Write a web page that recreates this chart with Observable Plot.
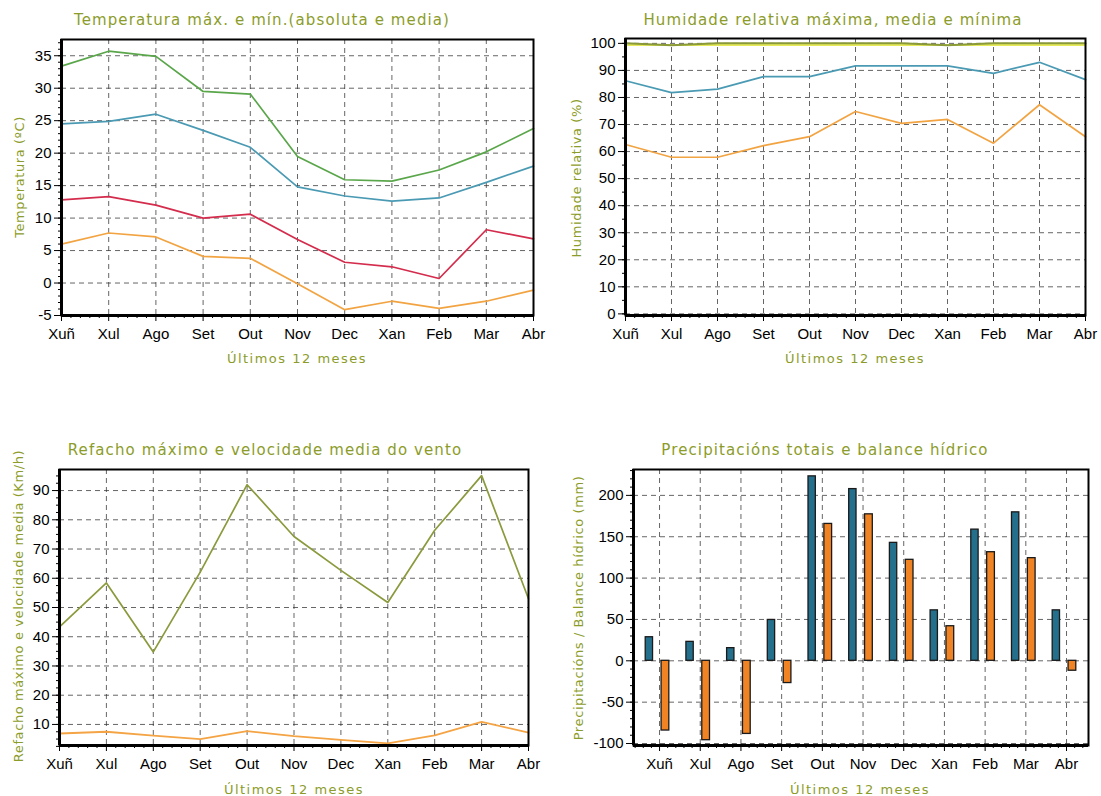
<!DOCTYPE html>
<html><head><meta charset="utf-8">
<script src="https://cdn.jsdelivr.net/npm/d3@7"></script>
<script src="https://cdn.jsdelivr.net/npm/@observablehq/plot@0.6"></script>
<style>
body{margin:0;background:#fff;}
#wrap{position:relative;width:1101px;height:796px;overflow:hidden;background:#fff;}
.panel{position:absolute;}
.title{position:absolute;font-family:"DejaVu Sans",sans-serif;font-size:15px;line-height:15px;color:#8c9c2a;letter-spacing:1.1px;white-space:nowrap;transform:translate(-50%,-50%);}
.xlab{position:absolute;font-family:"DejaVu Sans",sans-serif;font-size:13px;line-height:13px;color:#8c9c2a;letter-spacing:1.5px;white-space:nowrap;transform:translate(-50%,-50%);}
.ylab{position:absolute;font-family:"DejaVu Sans",sans-serif;font-size:13px;line-height:13px;color:#8c9c2a;letter-spacing:0.6px;white-space:nowrap;transform:translate(-50%,-50%) rotate(-90deg);}
</style>
</head><body>
<div id="wrap"></div>
<script>
// ---- data ----
const months = ["Xuñ","Xul","Ago","Set","Out","Nov","Dec","Xan","Feb","Mar","Abr"];
const tempMaxAbs = [33.4,35.7,34.9,29.5,29.1,19.5,15.9,15.7,17.4,20.2,23.8];
const tempMaxMed = [24.5,24.9,26.0,23.5,20.9,14.8,13.4,12.6,13.1,15.5,18.0];
const tempMinMed = [12.8,13.3,12.0,10.0,10.6,6.7,3.2,2.5,0.7,8.2,6.8];
const tempMinAbs = [6.0,7.7,7.1,4.1,3.8,-0.1,-4.1,-2.8,-3.9,-2.8,-1.1];

const humMax  = [100,99.3,100,100,100,100,100,99.3,100,100,100];
const humTop  = [99.4,99.4,99.4,99.4,99.4,99.4,99.4,99.4,99.4,99.4,99.4];
const humMed  = [86.2,81.8,83.1,87.7,87.7,91.7,91.7,91.7,88.9,93.0,86.6];
const humMin  = [62.6,57.9,57.9,62.2,65.5,74.8,70.4,71.9,63.1,77.3,65.5];

const windGust = [43.4,58.4,34.8,62.1,92.0,74.3,62.7,51.7,76.4,95.1,53.0];
const windMed  = [6.9,7.5,6.2,5.0,7.7,6.0,4.7,3.5,6.3,10.9,7.2];

const precip  = [28.5,22.9,15.3,49.4,223,207.6,142.6,61,158.6,179.5,61];
const balance = [-84.3,-96,-88.4,-26.9,165.5,177.1,122.1,41.8,131.3,124.1,-12];

// ---- styles ----
const gridStyle = {stroke:"#333", strokeDasharray:"5,4", strokeOpacity:0.75, strokeWidth:1};
const plotStyle = {fontFamily:"'Liberation Sans', Arial, sans-serif", fontSize:"15px", color:"#000", background:"transparent", overflow:"visible"};

const wrap = document.getElementById("wrap");
function place(el, left, top){ el.classList.add("panel"); el.style.left=left+"px"; el.style.top=top+"px"; wrap.appendChild(el); }
function label(cls, text, cx, cy){ const d=document.createElement("div"); d.className=cls; d.textContent=text; d.style.left=cx+"px"; d.style.top=cy+"px"; wrap.appendChild(d); }

function axesMarks({yMajor, yMinor, xMinor}){
  return [
    Plot.gridX(d3.range(months.length), gridStyle),
    Plot.gridY(yMajor, gridStyle),
    Plot.axisY(yMajor, {tickSize:7, tickPadding:3, label:null, fontSize:15, tickFormat:d=>String(d)}),
    Plot.axisY(yMinor, {tickSize:3, tickFormat:()=>"", label:null}),
    Plot.axisX(d3.range(months.length), {tickSize:6, tickPadding:7, tickFormat:i=>months[i], label:null, fontSize:15}),
    Plot.axisX(xMinor, {tickSize:3, tickFormat:()=>"", label:null}),
  ];
}
function frameMarks(xDomain, yDomain){
  return [
    Plot.frame({stroke:"#000", strokeWidth:2}),
    Plot.ruleX([xDomain[0]], {stroke:"#000", strokeWidth:3}),
    Plot.ruleY([yDomain[0]], {stroke:"#000", strokeWidth:3}),
  ];
}
const idx = months.map((m,i)=>i);
const minorX = d3.range(0, 10.001, 0.2).filter(v=>Math.abs(v-Math.round(v))>1e-6);

// ---- panel 1: temperature ----
{
  const xD=[0,10], yD=[-5,37.5];
  const rows = idx.map(i=>({i, a:tempMaxAbs[i], b:tempMaxMed[i], c:tempMinMed[i], d:tempMinAbs[i]}));
  const p = Plot.plot({
    width:550, height:380, marginLeft:61, marginRight:17, marginTop:39, marginBottom:65,
    style:plotStyle,
    x:{type:"linear", domain:xD}, y:{domain:yD},
    marks:[
      ...axesMarks({yMajor:d3.range(-5,36,5), yMinor:d3.range(-5,38,1), xMinor:minorX}),
      Plot.line(rows,{x:"i",y:"d",stroke:"#f2a443",strokeWidth:1.7}),
      Plot.line(rows,{x:"i",y:"c",stroke:"#d42c4c",strokeWidth:1.7}),
      Plot.line(rows,{x:"i",y:"b",stroke:"#4a9ab4",strokeWidth:1.7}),
      Plot.line(rows,{x:"i",y:"a",stroke:"#5aa64a",strokeWidth:1.7}),
      ...frameMarks(xD,yD)
    ]
  });
  place(p,0,0);
  label("title","Temperatura máx. e mín.(absoluta e media)",262,20);
  label("xlab","Últimos 12 meses",297,358);
  label("ylab","Temperatura (ºC)",19,177);
}

// ---- panel 2: humidity ----
{
  const xD=[0,10], yD=[-0.6,101.8];
  const rows = idx.map(i=>({i, mx:humMax[i], tp:humTop[i], md:humMed[i], mn:humMin[i]}));
  const p = Plot.plot({
    width:551, height:380, marginLeft:75, marginRight:16, marginTop:38, marginBottom:65,
    style:plotStyle,
    x:{type:"linear", domain:xD}, y:{domain:yD},
    marks:[
      ...axesMarks({yMajor:d3.range(0,101,10), yMinor:d3.range(0,101,5), xMinor:minorX}),
      Plot.line(rows,{x:"i",y:"mn",stroke:"#f2a443",strokeWidth:1.7}),
      Plot.line(rows,{x:"i",y:"md",stroke:"#4a9ab4",strokeWidth:1.7}),
      Plot.line(rows,{x:"i",y:"tp",stroke:"#e6ea5a",strokeWidth:2}),
      Plot.line(rows,{x:"i",y:"mx",stroke:"#8a9a3a",strokeWidth:2}),
      ...frameMarks(xD,yD)
    ]
  });
  place(p,550,0);
  label("title","Humidade relativa máxima, media e mínima",833,20);
  label("xlab","Últimos 12 meses",855,358);
  label("ylab","Humidade relativa (%)",576,178);
}

// ---- panel 3: wind ----
{
  const xD=[0,10], yD=[2.8,97.2];
  const rows = idx.map(i=>({i, g:windGust[i], m:windMed[i]}));
  const p = Plot.plot({
    width:550, height:396, marginLeft:59, marginRight:22, marginTop:69, marginBottom:51,
    style:plotStyle,
    x:{type:"linear", domain:xD}, y:{domain:yD},
    marks:[
      ...axesMarks({yMajor:d3.range(10,91,10), yMinor:d3.range(2.5,97,2.5), xMinor:minorX}),
      Plot.line(rows,{x:"i",y:"m",stroke:"#f4a444",strokeWidth:1.8}),
      Plot.line(rows,{x:"i",y:"g",stroke:"#8a9a3c",strokeWidth:1.7}),
      ...frameMarks(xD,yD)
    ]
  });
  place(p,0,400);
  label("title","Refacho máximo e velocidade media do vento",265,450);
  label("xlab","Últimos 12 meses",294,789);
  label("ylab","Refacho máximo e velocidade media (Km/h)",18,606);
}

// ---- panel 4: precipitation ----
{
  const xD=[-0.64,10.54], yD=[-102.4,231.3];
  const rows = idx.map(i=>({i, p:precip[i], b:balance[i]}));
  const minorX4 = d3.range(-0.6, 10.54, 0.2).filter(v=>Math.abs(v-Math.round(v))>1e-6);
  const p = Plot.plot({
    width:551, height:396, marginLeft:83, marginRight:13, marginTop:69, marginBottom:51,
    style:plotStyle,
    x:{type:"linear", domain:xD}, y:{domain:yD},
    marks:[
      ...axesMarks({yMajor:d3.range(-100,201,50), yMinor:d3.range(-100,231,10), xMinor:minorX4}),
      Plot.rect(rows,{x1:d=>d.i-0.34, x2:d=>d.i-0.16, y1:0, y2:"p", fill:"#24708c", stroke:"#1a1a1a", strokeWidth:1.3}),
      Plot.rect(rows,{x1:d=>d.i+0.05, x2:d=>d.i+0.24, y1:0, y2:"b", fill:"#f08424", stroke:"#1a1a1a", strokeWidth:1.3}),
      ...frameMarks(xD,yD)
    ]
  });
  place(p,550,400);
  label("title","Precipitacións totais e balance hídrico",825,450);
  label("xlab","Últimos 12 meses",860,789);
  label("ylab","Precipitacións / Balance hídrico (mm)",578,608);
}
</script>
</body></html>
